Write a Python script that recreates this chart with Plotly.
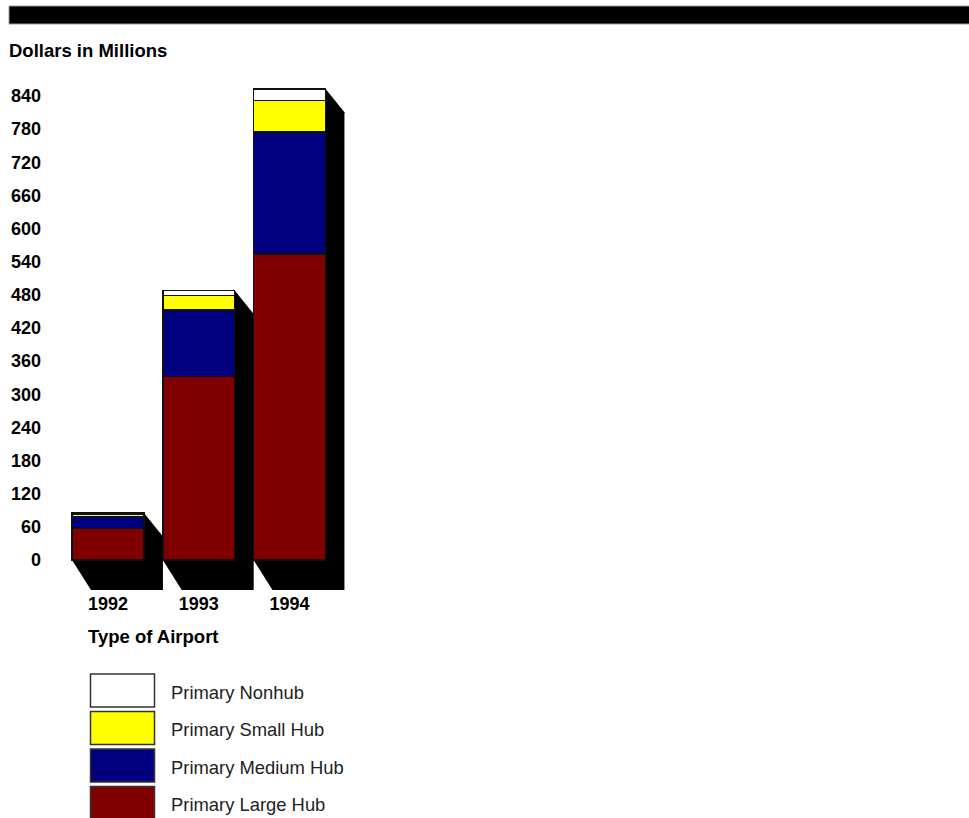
import plotly.graph_objects as go

# ---------------- data ----------------
years = ["1992", "1993", "1994"]
series_names = ["Primary Large Hub", "Primary Medium Hub", "Primary Small Hub", "Primary Nonhub"]
large_hub = [57, 332, 554]
medium_hub = [22, 121, 221]
small_hub = [4, 26, 57]
nonhub = [2, 9, 21]
series_values = [large_hub, medium_hub, small_hub, nonhub]
series_colors = ["#800000", "#000080", "#FFFF00", "#FFFFFF"]
y_ticks = list(range(0, 841, 60))

# ---------------- layout constants ----------------
W, H = 969, 818
PLOT_L, PLOT_R, PLOT_T, PLOT_B = 48, 360, 70, 591   # screen pixels
ML, MR, MT, MB = PLOT_L, W - PLOT_R, PLOT_T, H - PLOT_B
X_RANGE = [-0.661, 2.777]
Y_RANGE = [-56, 887]
BAR_W = 0.793
DX = 0.209      # depth offset (x units)
DY_TOP = 42.5   # depth offset at top (y units)
DY_BOT = 54.3   # depth offset at floor (y units)
FONT = "Liberation Sans, Arial, Helvetica, sans-serif"
TICK_SIZE = 18
TITLE_SIZE = 18.5

PW, PH = W - ML - MR, H - MT - MB


def px(x, y):
    """screen pixel -> paper coords"""
    return (x - ML) / PW, 1 - (y - MT) / PH


xpos = list(range(len(years)))
totals = [sum(v) for v in zip(*series_values)]

fig = go.Figure()
for name, vals, col in zip(series_names, series_values, series_colors):
    fig.add_trace(go.Bar(
        x=xpos, y=vals, width=BAR_W, name=name, showlegend=False,
        marker=dict(color=col, line=dict(color="#111111", width=1.5)),
        hoverinfo="name+y",
    ))

shapes = []
# 3D extrusion shadows, built from data values in data coordinates
for i, t in zip(xpos, totals):
    xl, xr = i - BAR_W / 2, i + BAR_W / 2
    path = (f"M {xl},0 L {xl + DX},{-DY_BOT} L {xr + DX},{-DY_BOT} "
            f"L {xr + DX},{t - DY_TOP} L {xr},{t} L {xl},{t} Z")
    shapes.append(dict(type="path", xref="x", yref="y", path=path,
                       fillcolor="black", line=dict(width=0), layer="below"))

# top black band
x0, y0 = px(9, 6)
x1, y1 = px(990, 24)
shapes.append(dict(type="rect", xref="paper", yref="paper", x0=x0, y0=y0, x1=x1, y1=y1,
                   fillcolor="black", line=dict(color="#9a9a9a", width=1)))

annotations = [
    dict(text="Dollars in Millions", x=px(7, 50)[0], y=px(7, 50)[1], xref="paper", yref="paper",
         xanchor="left", yanchor="middle", showarrow=False,
         font=dict(family=FONT, size=TITLE_SIZE, color="black", weight="bold")),
    dict(text="Type of Airport", x=px(86, 636)[0], y=px(86, 636)[1], xref="paper", yref="paper",
         xanchor="left", yanchor="middle", showarrow=False,
         font=dict(family=FONT, size=TITLE_SIZE, color="black", weight="bold")),
]

# custom legend (top to bottom: reverse stacking order)
for k, (name, col) in enumerate(zip(series_names[::-1], series_colors[::-1])):
    top = 674 + 37.5 * k
    bx0, by0 = px(90.5, top)
    bx1, by1 = px(154.5, top + 33)
    shapes.append(dict(type="rect", xref="paper", yref="paper", x0=bx0, y0=by1, x1=bx1, y1=by0,
                       fillcolor=col, line=dict(color="#333333", width=1.5)))
    tx, ty = px(169, top + 18)
    annotations.append(dict(text=name, x=tx, y=ty, xref="paper", yref="paper",
                            xanchor="left", yanchor="middle", showarrow=False,
                            font=dict(family=FONT, size=18.4, color="#222222")))

fig.update_layout(
    width=W, height=H, barmode="stack",
    margin=dict(l=ML, r=MR, t=MT, b=MB, pad=0),
    paper_bgcolor="white", plot_bgcolor="white",
    shapes=shapes, annotations=annotations, showlegend=False,
    xaxis=dict(range=X_RANGE, tickvals=xpos, ticktext=years, showgrid=False,
               zeroline=False, showline=False, ticks="", fixedrange=True,
               tickfont=dict(family=FONT, size=TICK_SIZE, color="black", weight="bold")),
    yaxis=dict(range=Y_RANGE, tickvals=y_ticks, showgrid=False, zeroline=False,
               showline=False, ticks="", ticklabelstandoff=6, fixedrange=True,
               tickfont=dict(family=FONT, size=TICK_SIZE, color="black", weight="bold")),
)

fig.write_html("out.html", config={"displayModeBar": False},
               post_script="document.body.style.margin='0';")
